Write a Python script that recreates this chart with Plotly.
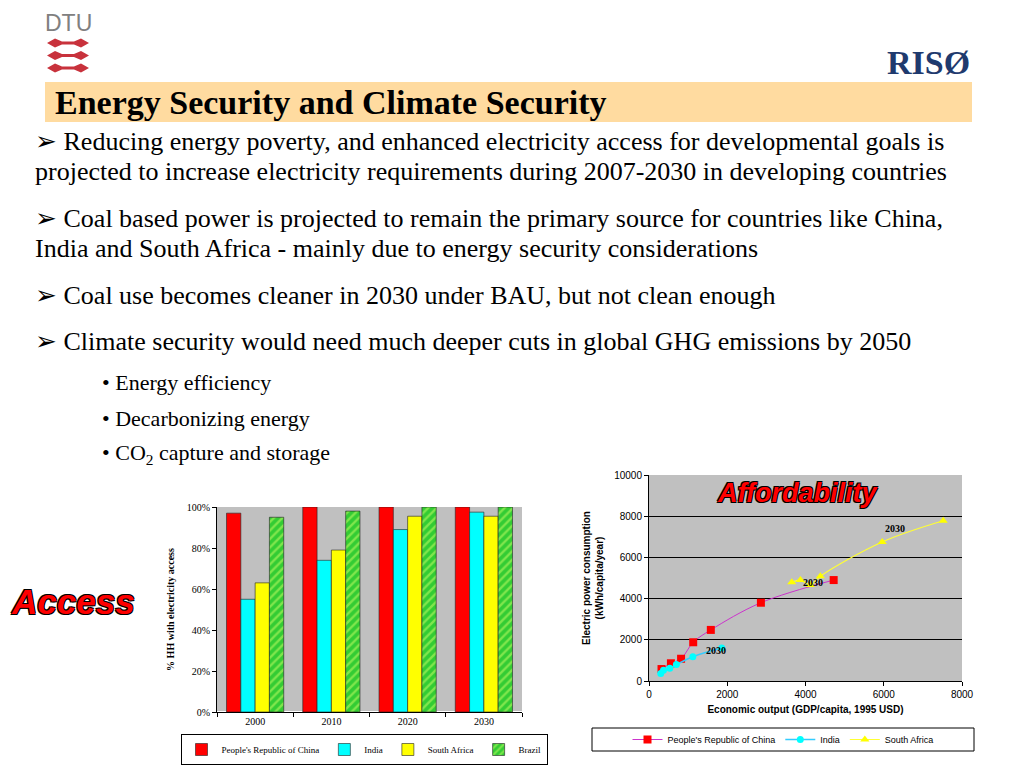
import plotly.graph_objects as go

# ---------------- data ----------------
years = ["2000", "2010", "2020", "2030"]
access_china = [0.97, 1.00, 1.00, 1.00]
access_india = [0.55, 0.74, 0.89, 0.975]
access_safrica = [0.63, 0.79, 0.955, 0.955]
access_brazil = [0.95, 0.98, 1.00, 1.00]

china_gdp = [320, 560, 820, 1130, 1580, 2860, 4720]
china_elec = [580, 860, 1080, 1880, 2480, 3800, 4900]
india_gdp = [300, 370, 530, 700, 1120, 1860]
india_elec = [370, 520, 620, 800, 1180, 1600]
safrica_gdp = [3650, 3870, 4120, 4380, 5960, 7520]
safrica_elec = [4790, 4900, 4660, 5090, 6750, 7780]

label_2030 = [(1720, 1500), (4180, 4780), (6300, 7420)]

W, H = 1024, 768
OX, OY = 8, 8  # page body offset

def px(x):
    return (x - OX) / W

def py(y):
    return 1 - (y - OY) / H

SERIF = "Liberation Serif, Times New Roman, serif"
SANS = "Liberation Sans, Arial, sans-serif"

fig = go.Figure()

# ---------------- bar chart (Access) ----------------
bar_line = dict(color="#222222", width=0.6)
fig.add_trace(go.Bar(x=years, y=access_china, name="People's Republic of China",
                     marker=dict(color="#FF0000", line=bar_line), xaxis="x", yaxis="y",
                     legend="legend"))
fig.add_trace(go.Bar(x=years, y=access_india, name="India",
                     marker=dict(color="#00FFFF", line=bar_line), xaxis="x", yaxis="y",
                     legend="legend"))
fig.add_trace(go.Bar(x=years, y=access_safrica, name="South Africa",
                     marker=dict(color="#FFFF00", line=bar_line), xaxis="x", yaxis="y",
                     legend="legend"))
fig.add_trace(go.Bar(x=years, y=access_brazil, name="Brazil",
                     marker=dict(color="#33CC33", line=bar_line,
                                 pattern=dict(shape="/", fgcolor="#CCFF66", size=6, solidity=0.4)),
                     xaxis="x", yaxis="y", legend="legend"))

# ---------------- line chart (Affordability) ----------------
fig.add_trace(go.Scatter(x=china_gdp, y=china_elec, name="People's Republic of China",
                         mode="lines+markers", line=dict(color="#CC33CC", width=1, shape="spline"),
                         marker=dict(symbol="square", color="#FF0000", size=8),
                         xaxis="x2", yaxis="y2", legend="legend2"))
fig.add_trace(go.Scatter(x=india_gdp, y=india_elec, name="India",
                         mode="lines+markers", line=dict(color="#33CCFF", width=1.5, shape="spline"),
                         marker=dict(symbol="circle", color="#00FFFF", size=7),
                         xaxis="x2", yaxis="y2", legend="legend2"))
fig.add_trace(go.Scatter(x=safrica_gdp, y=safrica_elec, name="South Africa",
                         mode="lines+markers", line=dict(color="#FFFF33", width=1.2, shape="spline"),
                         marker=dict(symbol="triangle-up", color="#FFFF00", size=8),
                         xaxis="x2", yaxis="y2", legend="legend2"))

fig.update_layout(
    width=W, height=H, autosize=False,
    margin=dict(l=0, r=0, t=0, b=0, pad=0, autoexpand=False),
    paper_bgcolor="white", plot_bgcolor="#C0C0C0",
    font=dict(family=SERIF, color="black"),
    barmode="group", bargap=0.25, bargroupgap=0,
    xaxis=dict(domain=[px(217), px(522)], anchor="y", type="category",
               showline=True, linecolor="black", linewidth=1,
               ticks="outside", tickson="boundaries", ticklen=4, tickcolor="black",
               tickfont=dict(family=SERIF, size=10), showgrid=False),
    yaxis=dict(domain=[py(712), py(507)], anchor="x", range=[0, 1], dtick=0.2,
               tickformat=".0%", showline=True, linecolor="black", linewidth=1,
               ticks="outside", ticklen=4, tickcolor="black", showgrid=False,
               tickfont=dict(family=SERIF, size=10),
               title=dict(text="% HH with electricity access", standoff=10,
                          font=dict(family=SERIF, size=10, weight="bold"))),
    xaxis2=dict(domain=[px(649), px(962)], anchor="y2", range=[0, 8000], dtick=2000,
                tickformat="d",
                showline=True, linecolor="black", linewidth=1, ticks="outside",
                ticklen=4, tickcolor="black", showgrid=False, zeroline=False,
                tickfont=dict(family=SANS, size=10),
                title=dict(text="Economic output (GDP/capita, 1995 USD)", standoff=6,
                           font=dict(family=SANS, size=10, weight="bold"))),
    yaxis2=dict(domain=[py(681), py(475)], anchor="x2", range=[0, 10000], dtick=2000,
                tickformat="d",
                showline=True, linecolor="black", linewidth=1, ticks="outside",
                ticklen=4, tickcolor="black", showgrid=True, gridcolor="black",
                gridwidth=1, zeroline=False,
                tickfont=dict(family=SANS, size=10),
                title=dict(text="Electric power consumption<br>(kWh/capita/year)", standoff=8,
                           font=dict(family=SANS, size=10, weight="bold"))),
    legend=dict(orientation="h", x=px(364), y=py(734), xanchor="center", yanchor="top",
                bgcolor="white", bordercolor="black", borderwidth=1,
                font=dict(family=SERIF, size=9), itemwidth=30, tracegroupgap=0),
    legend2=dict(orientation="h", x=px(783), y=py(739.5), xanchor="center", yanchor="middle",
                 bgcolor="rgba(0,0,0,0)", borderwidth=0,
                 font=dict(family=SANS, size=9), itemwidth=30),
    showlegend=True,
)

shapes = []
# title band
shapes.append(dict(type="rect", xref="paper", yref="paper", x0=px(45), x1=px(972),
                   y0=py(122), y1=py(82), fillcolor="#FFDBA0", line=dict(width=0), layer="below"))
# legend box for line chart
shapes.append(dict(type="rect", xref="paper", yref="paper", x0=px(592), x1=px(974),
                   y0=py(751), y1=py(728), fillcolor="white", line=dict(color="black", width=1),
                   layer="below"))
# DTU red marks
for m in [43, 55.5, 68]:
    pts = [(47, m), (55, m - 4.5), (62, m - 1.5), (74, m - 1.5), (81, m - 4.5), (89, m),
           (81, m + 4.5), (74, m + 1.5), (62, m + 1.5), (55, m + 4.5)]
    path = "M " + " L ".join(f"{px(a):.5f},{py(b):.5f}" for a, b in pts) + " Z"
    shapes.append(dict(type="path", xref="paper", yref="paper", path=path,
                       fillcolor="#C8323C", line=dict(width=0)))
fig.update_layout(shapes=shapes)

ann = []
def text(x, y, s, size, family=SERIF, color="black", xanchor="left", **kw):
    ann.append(dict(x=px(x), y=py(y), xref="paper", yref="paper", text=s, showarrow=False,
                    xanchor=xanchor, yanchor="middle",
                    font=dict(family=family, size=size, color=color, **kw)))

text(68, 23, "DTU", 23, family=SANS, color="#808080", xanchor="center")
text(928, 62, "RISØ", 34, family=SERIF, color="#1F3A6E", xanchor="center", weight="bold")
text(53, 103, "Energy Security and Climate Security", 34, weight="bold")

text(33, 142, "➢ Reducing energy poverty, and enhanced electricity access for developmental goals is", 26)
text(33, 172, "projected to increase electricity requirements during 2007-2030 in developing countries", 26)
text(33, 218, "➢ Coal based power is projected to remain the primary source for countries like China,", 26)
text(33, 249, "India and South Africa - mainly due to energy security considerations", 26)
text(33, 295, "➢ Coal use becomes cleaner in 2030 under BAU, but not clean enough", 26)
text(33, 341, "➢ Climate security would need much deeper cuts in global GHG emissions by 2050", 26)
text(100, 382, "• Energy efficiency", 22)
text(100, 418, "• Decarbonizing energy", 22)
text(100, 454, "• CO<sub>2</sub> capture and storage", 22)

outline = "-1px -1px 0 #000, 1px -1px 0 #000, -1px 1px 0 #000, 1px 1px 0 #000"
text(73, 601, "Access", 35, family=SANS, color="#FF0000", xanchor="center",
     weight="bold", style="italic", shadow=outline)
text(797, 493, "Affordability", 27, family=SANS, color="#FF0000", xanchor="center",
     weight="bold", style="italic", shadow=outline)

for gx, gy in label_2030:
    ann.append(dict(x=gx, y=gy, xref="x2", yref="y2", text="2030", showarrow=False,
                    font=dict(family=SERIF, size=10, weight="bold", color="black")))

fig.update_layout(annotations=ann)
fig.write_html("out.html")
